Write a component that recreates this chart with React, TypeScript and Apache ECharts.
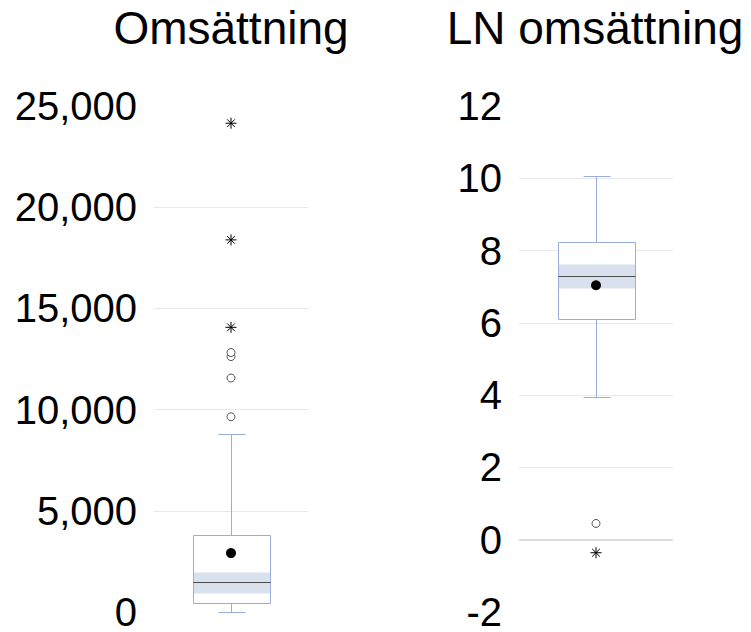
import React, { useEffect, useRef } from "react";
import * as echarts from "echarts";

// ---- data ----
const panelTitles = ["Omsättning", "LN omsättning"];

// [lower whisker, Q1, median, Q3, upper whisker]
const boxRaw = [1, 457, 1470, 3785, 8810];
const boxLn = [3.96, 6.11, 7.29, 8.25, 10.07];

// confidence band around the median [low, high]
const ciRaw = [948, 1979];
const ciLn = [6.96, 7.62];

const meanRaw = [2910];
const meanLn = [7.04];

// outliers (circles) and extreme values (asterisks)
const outliersRaw = [9645, 11560, 12620, 12820];
const extremesRaw = [14065, 18385, 24150];
const outliersLn = [0.45];
const extremesLn = [-0.36];

// axis ticks
const rawAxis = { min: 0, max: 25000, interval: 5000 };
const lnAxis = { min: -2, max: 12, interval: 2 };

const FONT = "'Liberation Sans', Arial, Helvetica, sans-serif";
const BOX_COLOR = "#98aed9";
const BAND_COLOR = "#d9e1ee";
const MEDIAN_COLOR = "#4a4a4a";
const GRID_COLOR = "#e8e8e8";
const ASTERISK =
  "path://M5,0L5,10M0,5L10,5M1.5,1.5L8.5,8.5M8.5,1.5L1.5,8.5";

function renderBox(params: any, api: any) {
  const x = api.value(0);
  const band = api.size([1, 0])[0];
  const cx = Math.round(api.coord([x, api.value(3)])[0]) + 0.5;
  const halfBox = band * 0.253;
  const halfCap = band * 0.085;
  const py = (v: number) => Math.round(api.coord([x, v])[1]) + 0.5;
  const yLow = py(api.value(1));
  const yQ1 = py(api.value(2));
  const yMed = py(api.value(3));
  const yQ3 = py(api.value(4));
  const yHigh = py(api.value(5));
  const yCiLo = py(api.value(6));
  const yCiHi = py(api.value(7));
  const x0 = Math.round(cx - halfBox) + 0.5;
  const x1 = Math.round(cx + halfBox) + 0.5;
  const c0 = Math.round(cx - halfCap) + 0.5;
  const c1 = Math.round(cx + halfCap) + 0.5;
  const lineStyle = { stroke: BOX_COLOR, lineWidth: 1 };
  return {
    type: "group",
    children: [
      { type: "rect", shape: { x: x0, y: yQ3, width: x1 - x0, height: yQ1 - yQ3 }, style: { fill: "#ffffff" } },
      { type: "rect", shape: { x: x0, y: yCiHi, width: x1 - x0, height: yCiLo - yCiHi }, style: { fill: BAND_COLOR } },
      { type: "rect", shape: { x: x0, y: yQ3, width: x1 - x0, height: yQ1 - yQ3 }, style: { fill: "none", stroke: BOX_COLOR, lineWidth: 1 } },
      { type: "line", shape: { x1: x0, y1: yMed, x2: x1, y2: yMed }, style: { stroke: MEDIAN_COLOR, lineWidth: 1 } },
      { type: "line", shape: { x1: cx, y1: yQ3, x2: cx, y2: yHigh }, style: lineStyle },
      { type: "line", shape: { x1: cx, y1: yQ1, x2: cx, y2: yLow }, style: lineStyle },
      { type: "line", shape: { x1: c0, y1: yHigh, x2: c1, y2: yHigh }, style: lineStyle },
      { type: "line", shape: { x1: c0, y1: yLow, x2: c1, y2: yLow }, style: lineStyle },
    ],
  };
}

function panelSeries(
  idx: number,
  box: number[],
  ci: number[],
  mean: number[],
  outliers: number[],
  extremes: number[]
) {
  return [
    {
      type: "custom",
      xAxisIndex: idx,
      yAxisIndex: idx,
      renderItem: renderBox,
      encode: { x: 0, y: [1, 2, 3, 4, 5, 6, 7] },
      data: [[0, ...box, ...ci]],
      z: 2,
      ...(idx === 1
        ? {
            markLine: {
              silent: true,
              symbol: "none",
              label: { show: false },
              lineStyle: { color: "#d6d6d6", width: 1.5, type: "solid" },
              data: [{ yAxis: 0 }],
              z: 1,
            },
          }
        : {}),
    },
    {
      type: "scatter",
      xAxisIndex: idx,
      yAxisIndex: idx,
      data: mean.map((v) => [0, v]),
      symbol: "circle",
      symbolSize: 10,
      itemStyle: { color: "#000000", opacity: 1 },
      z: 5,
    },
    {
      type: "scatter",
      xAxisIndex: idx,
      yAxisIndex: idx,
      data: outliers.map((v) => [0, v]),
      symbol: "circle",
      symbolSize: 8,
      itemStyle: { color: "#ffffff", borderColor: "#555555", borderWidth: 1, opacity: 1 },
      z: 5,
    },
    {
      type: "scatter",
      xAxisIndex: idx,
      yAxisIndex: idx,
      data: extremes.map((v) => [0, v]),
      symbol: ASTERISK,
      symbolSize: 11,
      itemStyle: { color: "rgba(0,0,0,0)", borderColor: "#000000", borderWidth: 1, opacity: 1 },
      z: 5,
    },
  ];
}

function yAxis(idx: number, cfg: { min: number; max: number; interval: number }) {
  return {
    type: "value",
    gridIndex: idx,
    min: cfg.min,
    max: cfg.max,
    interval: cfg.interval,
    axisLine: { show: false },
    axisTick: { show: false },
    axisLabel: {
      fontSize: 40,
      lineHeight: 30,
      fontFamily: FONT,
      color: "#000000",
      margin: 17,
      formatter: (v: number) => v.toLocaleString("en-US"),
    },
    splitLine: {
      show: true,
      showMinLine: false,
      showMaxLine: false,
      lineStyle: { color: GRID_COLOR, width: 1 },
    },
  };
}

function xAxis(idx: number) {
  return {
    type: "category",
    gridIndex: idx,
    data: [panelTitles[idx]],
    show: false,
    boundaryGap: true,
  };
}

export default function App() {
  const ref = useRef<HTMLDivElement>(null);
  useEffect(() => {
    if (!ref.current) return;
    const chart = echarts.init(ref.current, undefined, { renderer: "svg" });
    chart.setOption({
      animation: false,
      backgroundColor: "#ffffff",
      title: panelTitles.map((t, i) => ({
        text: t,
        left: i === 0 ? 231 : 595,
        top: 5,
        padding: 0,
        textAlign: "center",
        textStyle: { fontSize: 46, fontWeight: "normal", color: "#000000", fontFamily: FONT },
      })),
      grid: [
        { left: 154, top: 106, width: 154, height: 509 },
        { left: 519, top: 106, width: 154, height: 509 },
      ],
      xAxis: [xAxis(0), xAxis(1)],
      yAxis: [yAxis(0, rawAxis), yAxis(1, lnAxis)],
      series: [
        ...panelSeries(0, boxRaw, ciRaw, meanRaw, outliersRaw, extremesRaw),
        ...panelSeries(1, boxLn, ciLn, meanLn, outliersLn, extremesLn),
      ],
    });
    return () => chart.dispose();
  }, []);
  return (
    <div
      ref={ref}
      style={{ position: "fixed", left: 0, top: 0, width: 751, height: 632, background: "#fff" }}
    />
  );
}
